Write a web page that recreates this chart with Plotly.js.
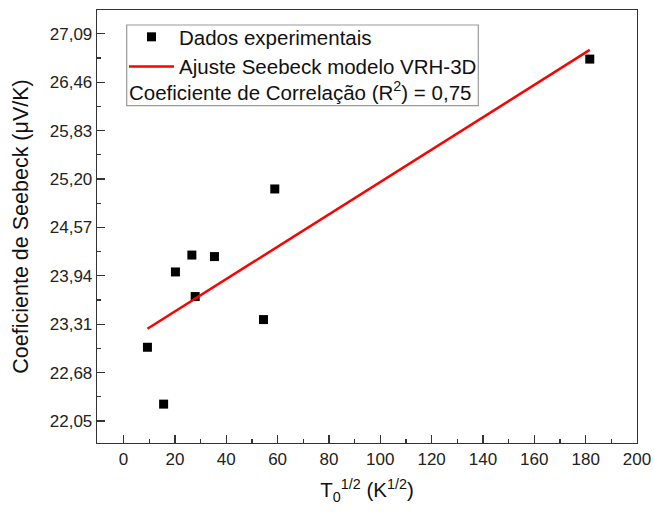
<!DOCTYPE html>
<html>
<head>
<meta charset="utf-8">
<script src="https://cdn.plot.ly/plotly-3.0.1.min.js"></script>
<style>html,body{margin:0;padding:0;background:#fff;}#chart{width:654px;height:516px;}</style>
</head>
<body>
<div id="chart"></div>
<script>
// Experimental data
const xData = [9.3, 15.6, 20.2, 26.6, 27.9, 35.4, 54.5, 58.9, 181.6];
const yData = [23.01, 22.27, 23.99, 24.21, 23.67, 24.19, 23.37, 25.07, 26.76];
// Fitted line endpoints (VRH-3D fit)
const fitX = [9.3, 181.6];
const fitY = [23.25, 26.88];
// Tick labels
const yTickVals = [22.05, 22.68, 23.31, 23.94, 24.57, 25.20, 25.83, 26.46, 27.09];
const yTickText = ["22,05", "22,68", "23,31", "23,94", "24,57", "25,20", "25,83", "26,46", "27,09"];
const yMinorVals = [22.365, 22.995, 23.625, 24.255, 24.885, 25.515, 26.145, 26.775];

const W = 654, H = 516;
const M = {l: 97, r: 17, t: 10, b: 73};
const pw = W - M.l - M.r, ph = H - M.t - M.b;
const px = v => (v - M.l) / pw;
const py = v => 1 - (v - M.t) / ph;

const font = "Liberation Sans, Arial, sans-serif";

const traces = [
  {
    x: xData, y: yData, type: 'scatter', mode: 'markers',
    name: 'Dados experimentais',
    marker: {symbol: 'square', size: 9, color: '#000'}
  },
  {
    x: fitX, y: fitY, type: 'scatter', mode: 'lines',
    name: 'Ajuste Seebeck modelo VRH-3D',
    line: {color: '#ff0000', width: 2.5}
  }
];

const layout = {
  width: W, height: H,
  margin: M,
  paper_bgcolor: '#fff', plot_bgcolor: '#fff',
  font: {family: font, color: '#222', size: 17},
  showlegend: true,
  legend: {
    x: px(124), y: py(17), xanchor: 'left', yanchor: 'top',
    bgcolor: 'rgba(0,0,0,0)', borderwidth: 0,
    font: {family: font, size: 20.5, color: '#111'},
    itemwidth: 45,
    tracegroupgap: 0
  },
  xaxis: {
    range: [-10.35, 200],
    tickmode: 'linear', tick0: 0, dtick: 20,
    ticks: 'inside', ticklen: 8, tickwidth: 1.2, tickcolor: '#333',
    minor: {dtick: 10, ticks: 'inside', ticklen: 4, tickwidth: 1.2, tickcolor: '#333'},
    showline: true, linecolor: '#333', linewidth: 1.3, mirror: true,
    showgrid: false, zeroline: false,
    tickfont: {family: font, size: 17, color: '#222'},
    title: {text: 'T<sub>0</sub><sup>1/2</sup> (K<sup>1/2</sup>)', font: {family: font, size: 20.5, color: '#111'}, standoff: 15}
  },
  yaxis: {
    range: [21.764, 27.399],
    tickmode: 'array', tickvals: yTickVals, ticktext: yTickText,
    ticks: 'inside', ticklen: 8, tickwidth: 1.2, tickcolor: '#333',
    minor: {tickmode: 'array', tickvals: yMinorVals, ticks: 'inside', ticklen: 4, tickwidth: 1.2, tickcolor: '#333'},
    showline: true, linecolor: '#333', linewidth: 1.3, mirror: true,
    showgrid: false, zeroline: false,
    tickfont: {family: font, size: 17, color: '#222'},
    title: {text: 'Coeficiente de Seebeck (μV/K)', font: {family: font, size: 21.5, color: '#111'}, standoff: 15}
  },
  shapes: [
    {type: 'rect', xref: 'paper', yref: 'paper',
     x0: px(126.7), x1: px(478.3), y0: py(105.7), y1: py(25),
     line: {color: '#999', width: 1.2}, fillcolor: 'rgba(0,0,0,0)'}
  ],
  annotations: [
    {xref: 'paper', yref: 'paper', x: px(127), y: py(91),
     xanchor: 'left', yanchor: 'middle', showarrow: false,
     text: 'Coeficiente de Correlação (R<sup>2</sup>) = 0,75',
     font: {family: font, size: 20.5, color: '#111'}}
  ]
};

Plotly.newPlot('chart', traces, layout, {displayModeBar: false, staticPlot: true});
</script>
</body>
</html>
